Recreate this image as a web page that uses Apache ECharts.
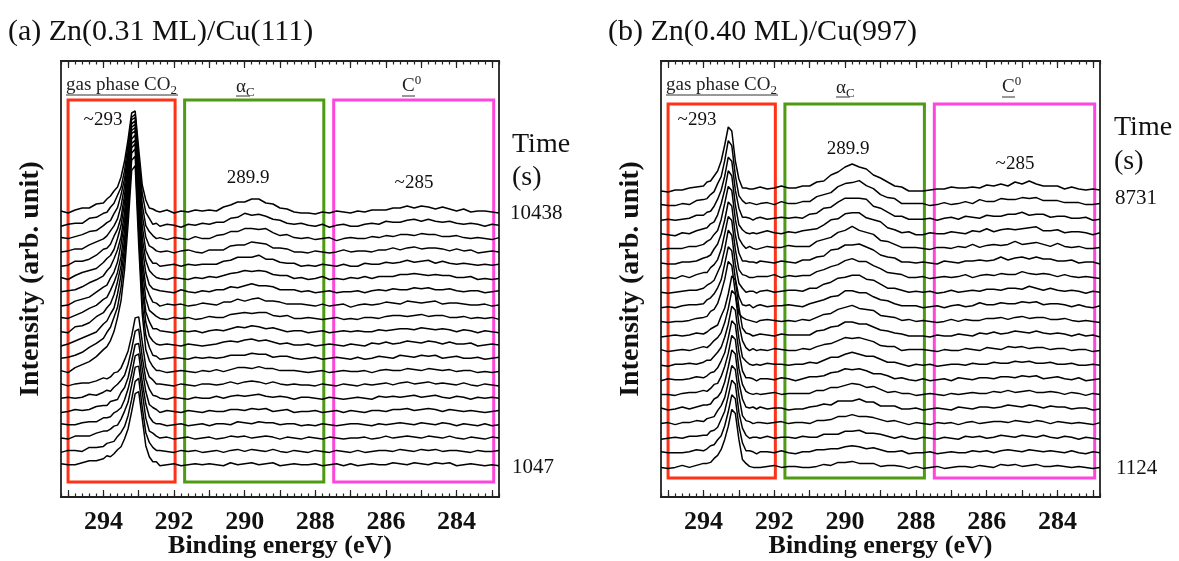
<!DOCTYPE html>
<html>
<head>
<meta charset="UTF-8">
<title>CO2 on Zn/Cu - C 1s spectra</title>
<script src="https://cdn.jsdelivr.net/npm/echarts@6/dist/echarts.min.js"></script>
<style>
    html, body { margin: 0; padding: 0; background: #fff; }
    #chart { width: 1179px; height: 561px; }
</style>
</head>
<body>
<div id="chart"></div>
<script>
// binding energy grid (eV), finer around the gas phase CO2 peak
var energy = [295.2,295.0,294.8,294.6,294.4,294.2,294.0,293.9,293.8,293.7,293.6,293.5,293.4,293.3,293.2,293.1,293.0,292.9,292.8,292.7,292.6,292.5,
    292.4,292.2,292.0,291.8,291.6,291.4,291.2,291.0,290.8,290.6,290.4,290.2,290.0,289.8,289.6,289.4,289.2,289.0,288.8,288.6,288.4,288.2,288.0,
    287.8,287.6,287.4,287.2,287.0,286.8,286.6,286.4,286.2,286.0,285.8,285.6,285.4,285.2,285.0,284.8,284.6,284.4,284.2,284.0,283.8,283.6,283.4,283.2,283.0,282.8];

// (a) Zn(0.31 ML)/Cu(111): intensity above each trace's own baseline, top trace (10438 s) first
var spectraA = [
    [1,-1,2,4,4,8,9,13,16,21,25,35,51,73,99,101,63,27,12,4,3,1, 0,2,-1,1,0,2,1, 2,1,5,7,10,10,13,13,9,8,4,3,0,-1, -1,-2,0,-1,1,0,-1, 1,0,2,2,2,4,4,6,4,6,5,3,5,3,1,3,0,1,1, 0,-1],
    [-1,1,2,2,7,8,12,13,18,22,30,38,55,81,108,111,67,32,13,7,1,2, -1,1,0,-2,1,0,2, 1,3,3,7,8,12,10,11,9,6,5,2,1,2, 0,-1,1,-2,0,1,-1, -1,1,2,1,4,3,3,5,6,4,6,4,3,4,2,1,2,1,-1, 1,0],
    [1,0,2,4,7,8,13,16,18,25,31,44,60,87,119,121,76,34,13,7,3,0, 1,-1,1,0,-1,2,0, 0,3,4,7,7,10,10,9,10,6,3,4,1,0, 1,-1,0,1,-2,0,1, 0,0,2,1,3,2,4,4,3,5,4,4,2,2,3,1,0,1,0, -1,1],
    [0,1,3,3,7,10,13,16,21,26,33,46,66,95,128,131,80,37,15,6,4,1, 0,1,-1,1,2,0,-1, 2,2,2,6,7,7,10,9,8,4,4,3,0,0, -1,1,0,-1,0,2,0, 1,1,0,2,2,4,2,4,5,3,4,4,3,1,3,1,2,-1,0, 1,0],
    [-1,0,4,4,6,10,16,17,21,29,36,48,70,102,138,141,88,39,15,7,2,2, -1,0,1,-1,1,0,1, 1,1,4,5,8,8,8,10,6,6,3,2,2,-1, 0,-1,1,0,-1,1,-1, -1,2,1,1,3,2,3,5,3,4,5,2,4,2,1,2,1,0,1, 0,1],
    [1,-1,3,6,8,10,16,20,23,29,40,53,76,109,148,151,94,41,18,8,4,1, 0,-1,1,0,-1,1,0, 2,1,3,5,6,8,7,8,7,4,3,3,0,1, -1,0,2,-1,0,-1,1, 0,2,0,2,2,2,4,4,5,4,3,4,3,3,1,1,2,-1,0, -1,0],
    [0,1,2,5,9,12,16,21,25,33,42,55,80,117,158,161,99,45,19,7,3,2, 1,0,-1,2,0,-1,1, 0,2,2,5,4,6,8,6,6,5,2,2,2,0, 1,-1,0,1,-1,0,0, 1,-1,1,2,1,3,2,2,4,3,4,2,2,3,1,0,1,1,-1, 0,1],
    [-1,0,4,6,8,13,18,20,27,33,43,61,84,123,166,170,106,46,19,10,3,2, -1,1,0,1,-1,0,2, 1,0,3,3,6,4,6,7,4,4,3,1,1,1, 0,-1,1,-1,0,1,-2, 0,1,0,1,3,2,1,4,3,2,3,4,1,2,2,1,0,0,1, -1,0],
    [1,0,3,6,10,13,19,21,28,36,46,62,89,129,175,178,109,51,20,8,5,2, 0,-1,1,0,1,-1,0, 2,1,1,4,5,6,5,6,6,3,2,3,0,0, 1,0,-1,0,1,-1,0, -1,1,1,0,2,3,3,2,3,4,2,3,3,1,1,2,0,1,0, 1,-1],
    [0,-1,5,6,9,15,19,24,28,37,50,66,92,136,184,188,117,52,20,10,3,3, 1,0,-1,1,0,1,-1, 1,2,1,3,5,4,6,5,3,4,2,0,1,1, -1,0,1,-1,0,1,0, 1,0,0,2,1,2,3,3,2,4,3,2,3,2,0,2,1,-1,1, 0,-1],
    [-1,1,4,7,10,13,21,24,31,37,51,70,97,141,192,196,120,56,23,9,4,1, 0,1,0,-1,1,0,-1, 0,1,3,4,3,5,6,4,5,3,1,2,0,0, 1,-1,0,1,0,-1,1, 0,-1,2,1,3,1,2,4,3,2,4,3,1,3,1,1,2,-1,0, 1,0],
    [0,1,3,6,11,15,20,26,31,41,51,71,101,146,198,202,126,55,23,11,3,2, -1,0,1,0,-1,1,0, 1,0,1,3,3,3,5,4,4,1,2,2,0,-1, 0,1,-1,0,1,0,-1, 1,-1,0,2,1,0,3,2,1,3,2,3,0,1,2,0,0,1,-1, 0,1],
    [1,-1,4,7,10,15,22,25,31,40,54,71,102,148,201,206,127,58,22,11,5,1, 1,-1,0,1,0,-1,1, 0,2,0,2,4,4,3,5,3,3,1,1,1,0, -1,0,1,-1,0,1,0, 0,1,-1,1,2,1,1,3,2,1,3,2,1,2,0,1,1,-1,0, -1,0],
    [1,-1,1,2,2,4,7,6,8,12,13,17,25,34,49,67,68,43,18,8,5,1, 1,0,-1,1,0,-1,1, 1,0,1,3,1,3,4,3,1,3,1,0,1,0, 0,-1,1,0,-1,1,0, -1,1,0,1,2,0,2,3,1,2,3,1,2,1,0,2,0,-1,1, 0,-1],
    [0,1,0,1,4,3,6,8,7,11,14,18,23,34,49,67,69,41,19,9,3,2, 0,-1,1,0,-1,1,0, 0,2,0,2,3,2,3,4,2,1,2,1,-1,1, 1,0,-1,1,0,-1,0, 1,0,-1,2,1,2,1,2,3,1,2,3,1,0,2,1,-1,1,0, 1,0],
    [-1,0,2,1,2,5,6,6,10,11,12,19,24,34,50,67,68,43,20,7,4,2, -1,1,0,-1,1,0,-1, 1,0,0,2,2,1,3,2,3,0,1,2,-1,0, 0,1,-1,0,1,-1,1, 0,-1,1,1,0,2,2,3,1,2,3,2,0,2,1,0,1,0,-1, 0,1],
    [1,0,0,2,3,3,7,7,8,12,14,17,25,36,51,69,71,43,21,8,3,1, 1,-1,0,1,-1,0,1, -1,1,1,0,3,2,1,3,2,2,0,1,1,-1, 0,-1,1,0,-1,0,1, 1,0,-1,1,0,1,2,1,0,2,1,0,2,1,-1,1,0,-1,1, -1,0],
    [0,-1,2,2,2,5,7,7,9,12,13,19,27,36,53,71,72,46,20,7,5,2, 0,1,-1,0,1,-1,0, 1,-1,0,2,1,2,0,1,2,1,-1,1,0,-1, 1,0,-1,1,0,-1,0, 0,1,-1,0,2,0,1,2,1,0,2,1,0,2,0,-1,1,0,-1, 1,0],
    [-1,1,1,0,4,4,5,8,9,10,15,19,25,36,52,70,73,44,19,9,4,1, 1,0,-1,1,0,1,-1, 0,1,-1,1,2,0,2,1,0,2,0,-1,1,0, -1,1,0,-1,1,0,-1, 1,-1,0,1,1,0,2,1,0,2,1,2,0,1,1,0,-1,1,0, 0,1],
    [1,0,0,2,4,4,6,9,8,11,15,18,26,36,53,71,73,46,19,8,3,3, -1,0,1,-1,0,1,0, 1,0,-1,2,0,1,2,0,1,2,-1,0,1,0, 0,1,-1,0,1,-1,1, -1,0,1,0,0,2,1,0,2,1,0,2,1,2,-1,0,1,0,-1, 0,-1]
];

// (b) Zn(0.40 ML)/Cu(997): top trace (8731 s) first
var spectraB = [
    [-1,-2,0,0,2,3,4,8,9,14,19,29,45,63,59,29,11,2,2,1,1,2, 3,1,2,4,2, 2,4,4,8,9,15,18,23,26,23,21,15,12,8,4,3,-1,-1, -1,0,1,1,3,2,2,3,2,5,4,6,4,8,6,9,6,4,4,4,1,3,1,0,1,0],
    [0,-1,-1,1,0,4,5,6,10,13,21,28,44,64,59,29,9,4,1,2,1,0, 1,2,0,3,1, 1,3,3,8,10,12,18,21,22,24,19,16,10,7,6,1,1,1, 1,-1,0,2,0,1,3,1,5,3,3,6,5,5,7,6,7,4,4,4,2,2,2,0,0,1],
    [-1,0,-1,0,1,4,4,7,8,13,20,29,43,62,58,29,11,2,2,1,-1,1, 2,0,1,2,1, 2,1,5,6,11,12,17,21,21,21,20,13,11,7,3,3,0,0, 0,1,-1,1,2,0,3,2,1,4,3,3,5,5,7,4,5,5,2,3,3,1,1,2,-1,0],
    [0,-1,-2,1,0,3,5,6,10,12,19,30,44,63,58,29,9,4,1,0,1,0, 1,3,1,0,2, 1,3,4,5,9,14,15,20,21,21,16,14,12,6,4,1,2,-1, -1,1,0,0,2,1,0,3,2,5,2,4,5,4,5,6,7,3,3,4,1,2,2,1,-1,1],
    [-1,0,0,0,2,2,4,7,9,14,18,29,45,62,58,29,10,4,0,2,0,-1, 0,2,1,1,3, 2,2,2,7,9,11,16,18,22,18,16,14,8,7,4,1,1,1, 0,-1,1,1,0,2,1,4,1,3,4,3,4,7,4,5,6,4,2,5,2,1,2,0,0,1],
    [0,-1,-1,1,1,2,5,6,8,14,19,29,43,61,57,28,10,2,2,1,1,0, 2,1,0,2,1, 0,3,3,6,7,13,14,18,18,19,16,13,8,6,5,1,1,0, 1,0,-1,2,1,0,2,2,3,2,3,6,3,5,6,4,6,4,4,2,2,3,0,1,1,-1],
    [-1,0,-1,2,0,3,5,5,10,13,18,28,44,61,57,28,8,3,2,0,0,1, 1,1,3,0,2, 1,2,2,6,8,11,13,17,19,16,16,12,9,5,4,3,0,0, 1,-1,0,1,0,1,3,0,2,3,2,4,3,3,6,4,3,4,3,1,3,1,0,1,0,-1],
    [0,-1,0,1,2,2,4,7,9,12,20,28,43,62,57,28,9,4,0,1,1,-1, 1,2,0,1,2, 2,1,4,4,8,10,14,15,17,17,13,12,8,4,4,2,0,1, 0,1,-1,0,2,0,1,2,1,3,3,2,4,4,3,6,4,2,4,2,1,2,1,-1,1,0],
    [-1,0,-1,1,2,2,3,7,9,13,19,27,43,60,56,28,10,2,1,2,-1,1, 2,0,1,1,2, 1,0,3,5,7,10,11,16,16,14,14,10,7,6,3,1,1,1, -1,0,1,-1,1,2,0,1,4,2,2,4,3,3,5,4,5,2,3,3,2,0,2,0,-1,1],
    [0,-1,0,0,1,3,4,5,10,12,18,29,42,60,56,28,8,4,2,1,0,-1, 1,2,1,0,1, 0,2,1,4,7,8,12,14,16,13,12,11,6,5,4,1,2,0, 1,0,-1,0,2,0,2,1,1,3,3,4,2,4,5,3,4,4,2,2,3,1,0,1,0,-1],
    [-1,0,1,0,1,3,2,4,7,9,11,20,28,42,60,56,29,8,3,2,0,1, 2,1,0,2,1, 1,1,1,5,6,9,10,14,14,12,12,9,6,5,3,2,0,0, 0,-1,1,0,0,2,1,0,3,2,4,2,3,5,4,3,5,3,2,3,2,0,2,0,1,-1],
    [1,-1,0,1,0,2,4,3,6,10,13,18,28,42,60,56,27,10,3,0,2,0, 1,0,2,1,0, 0,2,1,4,6,7,10,13,12,13,11,9,5,4,4,0,1,1, 1,0,-1,1,0,0,2,1,0,3,2,1,4,3,4,2,3,3,1,2,2,0,1,1,-1,0],
    [0,-1,1,1,2,1,3,5,5,9,13,18,28,41,59,55,27,8,4,1,0,1, 0,2,1,1,0, 1,1,3,2,5,8,8,11,13,11,9,9,6,3,3,1,-1,1, 0,1,-1,0,1,1,0,2,1,1,3,2,2,4,3,4,2,2,3,1,1,2,0,0,1,0],
    [-1,1,0,0,1,3,2,4,7,8,12,19,27,42,59,55,28,9,2,2,1,-1, 1,1,0,2,1, -1,1,3,3,4,7,8,11,10,11,9,6,6,4,1,2,0,-1, 1,-1,0,1,-1,2,1,0,2,2,1,3,3,2,4,3,4,1,2,3,1,0,2,-1,0,1],
    [0,0,-1,1,2,2,4,3,6,10,11,18,28,41,59,55,26,10,3,1,0,1, 0,1,2,0,1, 1,1,1,4,4,7,7,9,11,10,7,8,5,2,3,1,1,-1, 0,1,0,-1,1,0,1,2,1,1,3,2,4,2,3,4,2,2,3,2,0,2,1,-1,1,0],
    [1,-1,0,2,0,2,4,4,5,10,12,17,27,42,59,55,27,10,2,1,2,0, 2,0,1,1,-1, 0,0,2,3,5,4,8,8,8,10,7,7,3,3,3,0,0,1, -1,0,1,0,-1,2,1,0,2,2,1,2,4,3,2,4,3,1,3,2,2,0,1,1,-1,0],
    [0,1,-1,1,1,3,2,5,6,7,13,18,26,41,58,54,28,8,3,2,0,1, 1,0,1,2,0, 1,1,0,3,3,4,7,7,9,7,7,6,4,2,3,1,-1,1, 0,-1,1,0,1,-1,1,2,0,1,2,2,1,3,2,1,3,2,0,2,1,0,1,0,-1,1],
    [-1,0,1,0,2,2,3,3,7,8,11,19,27,42,58,54,26,10,3,0,1,1, 0,2,0,1,1, 0,2,1,1,4,4,4,7,7,8,5,5,4,2,0,2,0,-1, 1,0,-1,1,0,-1,2,1,2,0,1,3,2,1,3,2,1,3,1,0,2,1,-1,1,0,-1],
    [1,0,0,0,1,3,2,4,7,8,13,17,27,41,58,54,27,10,2,2,1,-1, 1,1,0,2,0, -1,1,1,3,3,4,4,6,7,6,4,5,3,1,1,2,-1,0, 0,1,-1,0,1,0,0,2,1,2,0,2,3,2,1,3,2,1,2,1,0,2,0,-1,1,0],
    [0,-1,0,2,0,2,4,4,5,9,12,18,28,41,58,54,28,8,4,1,0,0, 0,1,2,0,1, 1,0,0,1,3,2,5,5,6,4,4,4,1,2,2,1,-1,1, -1,0,1,-1,0,1,1,0,2,1,0,3,2,3,1,2,3,1,1,2,1,0,1,0,-1,0]
];

var timeLabelsA = ['10438', '1047'];
var timeLabelsB = ['8731', '1124'];
var tickLabels = [284, 286, 288, 290, 292, 294];
var majorTicks = [283, 284, 285, 286, 287, 288, 289, 290, 291, 292, 293, 294, 295];
var peakLabels = ['~293', '289.9', '~285'];

var SERIF = '"Liberation Serif", "Times New Roman", serif';
var chart = echarts.init(document.getElementById('chart'));

// trace baselines in px-like units above the frame bottom, stacked downwards
var panels = [
    {spectra: spectraA, left: 61, width: 438, first: 285, step: 13.3, boxTop: 397, boxBottom: 15},
    {spectra: spectraB, left: 661, width: 439, first: 307, step: 14.6, boxTop: 393, boxBottom: 19}
];
var regions = [
    {from: 295.0, to: 291.97, color: '#ff3216'},
    {from: 291.7, to: 287.76, color: '#4e9a12'},
    {from: 287.48, to: 282.95, color: '#ff46dc'}
];

var grids = [], xAxes = [], yAxes = [], series = [];
var tickStyle = {color: '#222', width: 1.2};
var frameLine = {show: true, lineStyle: {color: '#222', width: 1.8}};
var boldFont = {fontFamily: SERIF, fontWeight: 'bold', fontSize: 26, color: '#111'};

panels.forEach(function (p, g) {
    grids.push({left: p.left, top: 61, width: p.width, height: 436, show: true, outerBoundsMode: 'none',
        containLabel: false, borderColor: '#222', borderWidth: 1.8, backgroundColor: 'transparent'});

    var base = {gridIndex: g, type: 'value', min: 282.8, max: 295.2, inverse: true,
        splitLine: {show: false}, axisLine: frameLine};
    xAxes.push(Object.assign({}, base, {
        position: 'bottom',
        axisTick: {inside: true, length: 7, customValues: majorTicks, lineStyle: tickStyle},
        axisLabel: Object.assign({customValues: tickLabels, margin: 12}, boldFont),
        name: 'Binding energy (eV)', nameLocation: 'middle', nameGap: 36, nameMoveOverlap: false,
        nameTextStyle: boldFont
    }));
    xAxes.push(Object.assign({}, base, {position: 'bottom', interval: 0.2,
        axisTick: {inside: true, length: 3.5, lineStyle: tickStyle}, axisLabel: {show: false}}));
    xAxes.push(Object.assign({}, base, {position: 'top',
        axisTick: {inside: true, length: 7, customValues: majorTicks, lineStyle: tickStyle},
        axisLabel: {show: false}}));
    xAxes.push(Object.assign({}, base, {position: 'top', interval: 0.2,
        axisTick: {inside: true, length: 3.5, lineStyle: tickStyle}, axisLabel: {show: false}}));

    yAxes.push({gridIndex: g, type: 'value', min: 0, max: 436,
        axisLine: {show: false}, axisTick: {show: false}, axisLabel: {show: false}, splitLine: {show: false},
        name: 'Intensity (arb. unit)', nameLocation: 'middle', nameRotate: 90, nameGap: 16,
        nameMoveOverlap: false, nameTextStyle: Object.assign({}, boldFont, {fontSize: 28})});

    p.spectra.forEach(function (vals, i) {
        var offset = p.first - p.step * i;
        series.push({
            type: 'line', xAxisIndex: g * 4, yAxisIndex: g, symbol: 'none', silent: true,
            lineStyle: {color: '#000', width: 1.5},
            data: energy.map(function (e, k) { return [e, offset + vals[k]]; })
        });
    });

    // coloured region boxes, on top of the traces
    series.push({
        type: 'line', xAxisIndex: g * 4, yAxisIndex: g, data: [], z: 5, silent: true,
        markArea: {
            silent: true, label: {show: false},
            data: regions.map(function (r) {
                return [{xAxis: r.from, yAxis: p.boxBottom,
                    itemStyle: {color: 'rgba(0,0,0,0)', borderColor: r.color, borderWidth: 3}},
                    {xAxis: r.to, yAxis: p.boxTop}];
            })
        }
    });
});

var rich = {
    n: {fontFamily: SERIF, fontSize: 19, lineHeight: 24, verticalAlign: 'middle', fill: '#222'},
    sub: {fontFamily: SERIF, fontSize: 13, lineHeight: 12, verticalAlign: 'bottom', fill: '#222'},
    sup: {fontFamily: SERIF, fontSize: 13, lineHeight: 12, verticalAlign: 'top', fill: '#222'}
};

function txt(x, y, text, size, align) {
    return {type: 'text', silent: true, style: {x: x, y: y, text: text, fill: '#111',
        font: size + 'px ' + SERIF, align: align || 'left', verticalAlign: 'middle'}};
}
function head(x, y, text) {
    return {type: 'text', silent: true, style: {x: x, y: y, text: text, rich: rich,
        align: 'left', verticalAlign: 'middle'}};
}
function uline(x1, x2, y) {
    return {type: 'line', silent: true, shape: {x1: x1, y1: y, x2: x2, y2: y},
        style: {stroke: '#333', lineWidth: 1}};
}

var graphics = [
    txt(8, 32, '(a) Zn(0.31 ML)/Cu(111)', 30),
    txt(608, 32, '(b) Zn(0.40 ML)/Cu(997)', 30),

    head(66, 85, '{n|gas phase CO}{sub|2}'), uline(66, 178, 95),
    head(236, 87, '{n|α}{sub|C}'), uline(236, 250, 96),
    head(402, 86, '{n|C}{sup|0}'), uline(402, 415, 96),
    head(666, 85, '{n|gas phase CO}{sub|2}'), uline(666, 778, 95),
    head(836, 88, '{n|α}{sub|C}'), uline(836, 850, 97),
    head(1002, 87, '{n|C}{sup|0}'), uline(1002, 1015, 97),

    txt(103, 120, peakLabels[0], 19, 'center'),
    txt(248, 178, peakLabels[1], 19, 'center'),
    txt(414, 183, peakLabels[2], 19, 'center'),
    txt(697, 120, peakLabels[0], 19, 'center'),
    txt(848, 149, peakLabels[1], 19, 'center'),
    txt(1015, 164, peakLabels[2], 19, 'center'),

    txt(512, 145, 'Time', 28), txt(512, 178, '(s)', 28),
    txt(510, 213, timeLabelsA[0], 21), txt(512, 467, timeLabelsA[1], 21),
    txt(1114, 128, 'Time', 28), txt(1114, 162, '(s)', 28),
    txt(1115, 198, timeLabelsB[0], 21), txt(1116, 468, timeLabelsB[1], 21)
];

chart.setOption({
    animation: false,
    backgroundColor: '#fff',
    grid: grids,
    xAxis: xAxes,
    yAxis: yAxes,
    series: series,
    graphic: graphics
});
</script>
</body>
</html>
